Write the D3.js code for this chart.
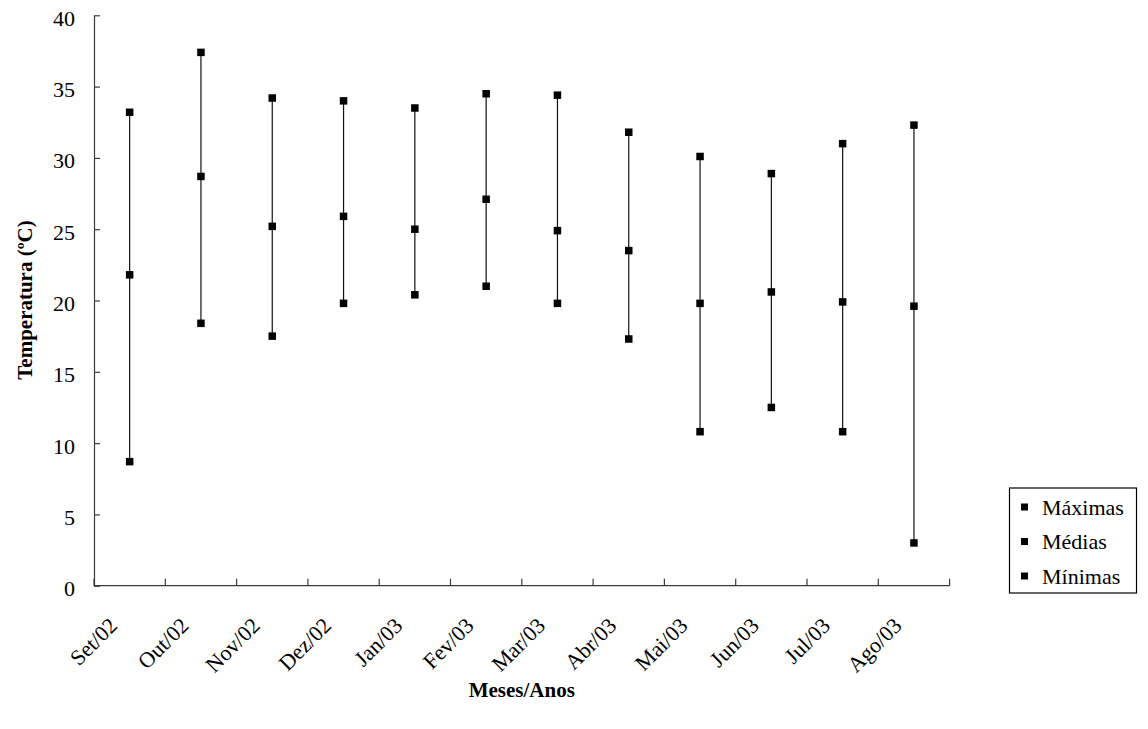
<!DOCTYPE html>
<html>
<head>
<meta charset="utf-8">
<script src="https://cdn.jsdelivr.net/npm/d3@7"></script>
<style>
  html, body { margin: 0; padding: 0; background: #fff; }
  svg { display: block; font-family: "Liberation Serif", "Times New Roman", serif; }
</style>
</head>
<body>
<svg id="chart" width="1148" height="729"></svg>
<script>
// Monthly air temperature, Sep/2002 – Aug/2003
const months = ["Set/02", "Out/02", "Nov/02", "Dez/02", "Jan/03", "Fev/03",
                "Mar/03", "Abr/03", "Mai/03", "Jun/03", "Jul/03", "Ago/03"];
const maximas = [33.2, 37.4, 34.2, 34.0, 33.5, 34.5, 34.4, 31.8, 30.1, 28.9, 31.0, 32.3];
const medias  = [21.8, 28.7, 25.2, 25.9, 25.0, 27.1, 24.9, 23.5, 19.8, 20.6, 19.9, 19.6];
const minimas = [8.7, 18.4, 17.5, 19.8, 20.4, 21.0, 19.8, 17.3, 10.8, 12.5, 10.8, 3.0];
const yTicks = [0, 5, 10, 15, 20, 25, 30, 35, 40];
const legendLabels = ["Máximas", "Médias", "Mínimas"];

const svg = d3.select("#chart");
const plotLeft = 94, plotRight = 949.6, plotTop = 15.3, plotBottom = 585.7;

const x = d3.scaleBand().domain(months).range([plotLeft, plotRight]).padding(0);
const y = d3.scaleLinear().domain([0, 40]).range([plotBottom, plotTop]);

const axisColor = "#3a3a3a";

// Y axis, ticks pointing inward
const yAxis = svg.append("g")
  .attr("transform", `translate(${plotLeft},0)`)
  .call(d3.axisLeft(y).tickValues(yTicks).tickSizeInner(-6).tickSizeOuter(0).tickPadding(19));
yAxis.select(".domain").attr("stroke", axisColor).attr("stroke-width", 1.2);
yAxis.selectAll(".tick line").attr("stroke", axisColor).attr("stroke-width", 1.2);
yAxis.selectAll(".tick text")
  .attr("font-size", 22).attr("font-family", "Liberation Serif").attr("fill", "#000")
  .attr("dy", "0.45em");

// X axis: tick marks on category boundaries, pointing inward
const xAxisG = svg.append("g").attr("transform", `translate(0,${plotBottom})`);
xAxisG.append("line")
  .attr("x1", plotLeft).attr("x2", plotRight).attr("y1", 0).attr("y2", 0)
  .attr("stroke", axisColor).attr("stroke-width", 1.2);
const boundaries = months.map(m => x(m)).concat([plotRight]);
xAxisG.selectAll("line.tk").data(boundaries).join("line")
  .attr("class", "tk")
  .attr("x1", d => d).attr("x2", d => d).attr("y1", 0).attr("y2", -7)
  .attr("stroke", axisColor).attr("stroke-width", 1.2);

// Rotated month labels
svg.append("g").selectAll("text").data(months).join("text")
  .attr("transform", d => `translate(${x(d) + x.bandwidth() / 2 - 11},627) rotate(-45)`)
  .attr("text-anchor", "end")
  .attr("font-size", 22)
  .attr("fill", "#000")
  .text(d => d);

// Axis titles
svg.append("text")
  .attr("x", (plotLeft + plotRight) / 2).attr("y", 697)
  .attr("text-anchor", "middle")
  .attr("font-size", 21).attr("font-weight", "bold")
  .text("Meses/Anos");

svg.append("text")
  .attr("transform", "translate(32,300) rotate(-90)")
  .attr("text-anchor", "middle")
  .attr("font-size", 21).attr("font-weight", "bold")
  .text("Temperatura (ºC)");

// Range lines from minimum to maximum
const rows = months.map((m, i) => ({ m, max: maximas[i], med: medias[i], min: minimas[i] }));
const cx = d => x(d.m) + x.bandwidth() / 2;

svg.append("g").selectAll("line").data(rows).join("line")
  .attr("x1", cx).attr("x2", cx)
  .attr("y1", d => y(d.min)).attr("y2", d => y(d.max))
  .attr("stroke", "#111").attr("stroke-width", 1.2);

// Square markers for each series
const sq = 7.5;
[maximas, medias, minimas].forEach(series => {
  svg.append("g").selectAll("rect").data(series).join("rect")
    .attr("x", (v, i) => x(months[i]) + x.bandwidth() / 2 - sq / 2)
    .attr("y", v => y(v) - sq / 2)
    .attr("width", sq).attr("height", sq)
    .attr("fill", "#000");
});

// Legend
const lg = svg.append("g");
lg.append("rect")
  .attr("x", 1009.5).attr("y", 488).attr("width", 127).attr("height", 105)
  .attr("fill", "#fff").attr("stroke", "#000").attr("stroke-width", 1.2);
legendLabels.forEach((lab, i) => {
  const cy = 507 + i * 34.5;
  lg.append("rect")
    .attr("x", 1021).attr("y", cy - 3.5).attr("width", 7).attr("height", 7)
    .attr("fill", "#000");
  lg.append("text")
    .attr("x", 1042).attr("y", cy + 7.5)
    .attr("font-size", 22).attr("fill", "#000")
    .text(lab);
});
</script>
</body>
</html>
